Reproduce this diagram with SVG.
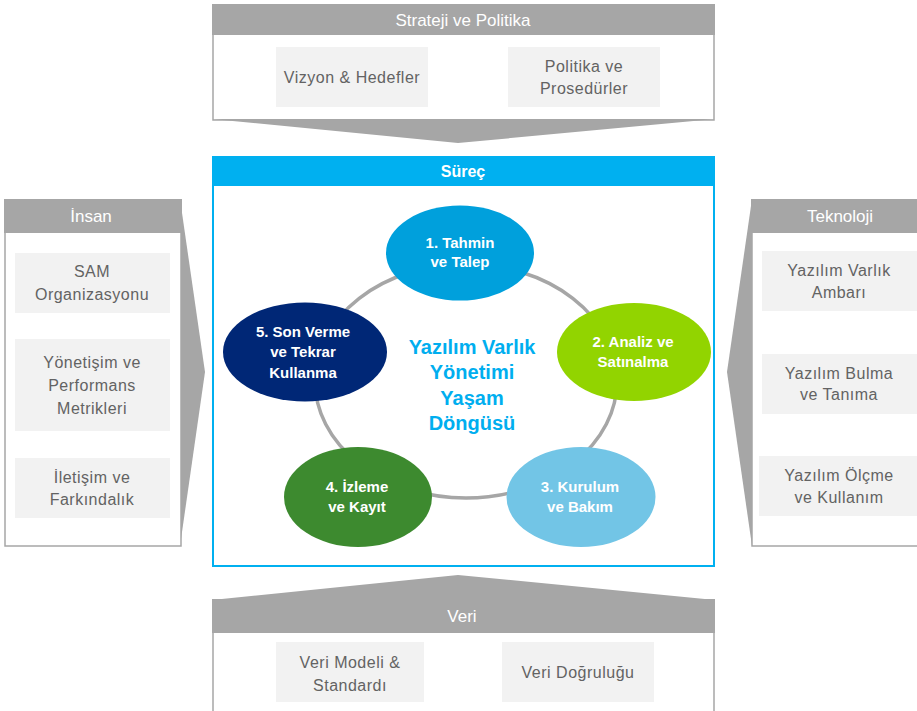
<svg xmlns="http://www.w3.org/2000/svg" width="917" height="711" viewBox="0 0 917 711">
<style>
.hdr{fill:#A6A6A6}
.body{fill:#FFFFFF;stroke:#A6A6A6;stroke-width:1.5}
.sub{fill:#F2F2F2}
.ht{font-family:"Liberation Sans",Arial,sans-serif;font-size:17px;fill:#FFFFFF;text-anchor:middle}
.st{font-family:"Liberation Sans",Arial,sans-serif;font-size:16px;fill:#636363;text-anchor:middle;letter-spacing:0.5px}
.et{font-family:"Liberation Sans",Arial,sans-serif;font-size:15px;font-weight:bold;fill:#FFFFFF;text-anchor:middle}
.ct{font-family:"Liberation Sans",Arial,sans-serif;font-size:20px;font-weight:bold;fill:#00AEEF;text-anchor:middle}
</style>

<g id="strateji">
<rect class="body" x="213" y="34" width="501" height="86"/>
<rect class="hdr" x="212" y="4" width="503" height="31"/>
<text class="ht" x="463" y="26">Strateji ve Politika</text>
<polygon class="hdr" points="212,119 715,119 458,143"/>
<rect class="sub" x="276" y="47" width="152" height="60"/>
<text class="st" x="352" y="83">Vizyon &amp; Hedefler</text>
<rect class="sub" x="508" y="47" width="152" height="60"/>
<text class="st" x="584" y="72">Politika ve</text>
<text class="st" x="584" y="94">Prosedürler</text>
</g>

<g id="insan">
<polygon class="hdr" points="180,199 205,372 180,546"/>
<rect class="body" x="5" y="232" width="176" height="314"/>
<rect class="hdr" x="4" y="199" width="178" height="34"/>
<text class="ht" x="91" y="222">İnsan</text>
<rect class="sub" x="15" y="253" width="155" height="60"/>
<text class="st" x="92" y="277">SAM</text>
<text class="st" x="92" y="300">Organizasyonu</text>
<rect class="sub" x="15" y="339" width="155" height="92"/>
<text class="st" x="92" y="368">Yönetişim ve</text>
<text class="st" x="92" y="391">Performans</text>
<text class="st" x="92" y="414">Metrikleri</text>
<rect class="sub" x="15" y="458" width="155" height="60"/>
<text class="st" x="92" y="483">İletişim ve</text>
<text class="st" x="92" y="505">Farkındalık</text>
</g>

<g id="teknoloji">
<polygon class="hdr" points="752,199 727,372 752,546"/>
<rect class="body" x="752" y="232" width="170" height="314"/>
<rect class="hdr" x="751" y="199" width="170" height="34"/>
<text class="ht" x="840" y="222">Teknoloji</text>
<rect class="sub" x="762" y="251" width="160" height="60"/>
<text class="st" x="839" y="276">Yazılım Varlık</text>
<text class="st" x="839" y="298">Ambarı</text>
<rect class="sub" x="762" y="354" width="160" height="60"/>
<text class="st" x="839" y="379">Yazılım Bulma</text>
<text class="st" x="839" y="400">ve Tanıma</text>
<rect class="sub" x="759" y="456" width="163" height="60"/>
<text class="st" x="839" y="481">Yazılım Ölçme</text>
<text class="st" x="839" y="503">ve Kullanım</text>
</g>

<g id="veri">
<polygon class="hdr" points="212,600 715,600 458,575"/>
<rect class="body" x="213" y="632" width="501" height="85"/>
<rect class="hdr" x="212" y="599" width="503" height="34"/>
<text class="ht" x="462" y="622">Veri</text>
<rect class="sub" x="276" y="642" width="148" height="60"/>
<text class="st" x="350" y="668">Veri Modeli &amp;</text>
<text class="st" x="350" y="691">Standardı</text>
<rect class="sub" x="502" y="642" width="152" height="60"/>
<text class="st" x="578" y="678">Veri Doğruluğu</text>
</g>

<g id="surec">
<rect x="213" y="157" width="501" height="409" fill="#FFFFFF" stroke="#00B0F0" stroke-width="2"/>
<rect x="212" y="156" width="503" height="30" fill="#00B0F0"/>
<text x="463" y="177" font-family="Liberation Sans,Arial,sans-serif" font-size="16px" font-weight="bold" fill="#FFFFFF" text-anchor="middle">Süreç</text>
</g>

<g id="connectors">
<ellipse cx="466" cy="381" rx="151" ry="117" fill="none" stroke="#A6A6A6" stroke-width="3.5"/>
</g>

<g id="center-label">
<text class="ct" x="472" y="354">Yazılım Varlık</text>
<text class="ct" x="472" y="379">Yönetimi</text>
<text class="ct" x="472" y="405">Yaşam</text>
<text class="ct" x="472" y="430">Döngüsü</text>
</g>

<g id="step1">
<ellipse cx="460" cy="253" rx="74" ry="47.5" fill="#00A0DC"/>
<text class="et" x="460" y="248">1. Tahmin</text>
<text class="et" x="460" y="267">ve Talep</text>
</g>
<g id="step2">
<ellipse cx="634" cy="352" rx="77" ry="49" fill="#92D400"/>
<text class="et" x="633" y="347">2. Analiz ve</text>
<text class="et" x="633" y="367">Satınalma</text>
</g>
<g id="step3">
<ellipse cx="581" cy="497" rx="74.5" ry="50" fill="#72C5E6"/>
<text class="et" x="580" y="492">3. Kurulum</text>
<text class="et" x="580" y="512">ve Bakım</text>
</g>
<g id="step4">
<ellipse cx="358" cy="497" rx="74" ry="50" fill="#3D8A2F"/>
<text class="et" x="357" y="492">4. İzleme</text>
<text class="et" x="357" y="512">ve Kayıt</text>
</g>
<g id="step5">
<ellipse cx="305" cy="352" rx="82" ry="49.5" fill="#002776"/>
<text class="et" x="303" y="337">5. Son Verme</text>
<text class="et" x="303" y="357">ve Tekrar</text>
<text class="et" x="303" y="378">Kullanma</text>
</g>
</svg>
